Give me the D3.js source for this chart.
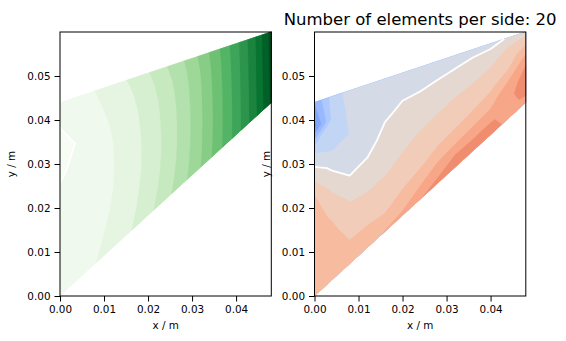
<!DOCTYPE html>
<html>
<head>
<meta charset="utf-8">
<script src="https://cdn.jsdelivr.net/npm/d3@7"></script>
<style>
  body { margin: 0; background: #fff; }
  svg text { font-family: "DejaVu Sans", sans-serif; fill: #000; }
</style>
</head>
<body>
<svg id="fig" width="566" height="341"></svg>
<script>
// Cook's membrane geometry (m)
const xExtent = [0, 0.048];
const yExtent = [0, 0.06];
const bottomEdgeY = [0, 0.044];   // y of lower edge at x = 0 and x = 0.048
const topEdgeY = [0.044, 0.06];   // y of upper edge at x = 0 and x = 0.048

const xTicks = [0, 0.01, 0.02, 0.03, 0.04];
const yTicks = [0, 0.01, 0.02, 0.03, 0.04, 0.05];

// Nodal values on a 13 x 9 structured grid of the membrane:
// columns run along x, rows run from the lower edge (first) to the upper edge (last).
const displacement = [
  [0.03, 0.45, 0.97, 1.45, 1.95, 2.70, 3.65, 4.70, 6.00, 7.60, 9.40, 11.50, 14.20],
  [0.03, 0.35, 0.80, 1.21, 1.75, 2.48, 3.44, 4.55, 5.91, 7.55, 9.40, 11.52, 14.22],
  [0.03, 0.25, 0.69, 1.06, 1.63, 2.34, 3.31, 4.45, 5.86, 7.53, 9.41, 11.55, 14.25],
  [0.04, 0.18, 0.62, 0.98, 1.56, 2.26, 3.25, 4.40, 5.84, 7.53, 9.42, 11.57, 14.27],
  [0.10, 0.13, 0.60, 0.95, 1.55, 2.25, 3.25, 4.40, 5.85, 7.55, 9.45, 11.60, 14.30],
  [-0.05, 0.10, 0.62, 0.98, 1.59, 2.30, 3.30, 4.44, 5.89, 7.59, 9.48, 11.62, 14.32],
  [-0.45, 0.08, 0.67, 1.06, 1.67, 2.39, 3.39, 4.52, 5.95, 7.64, 9.52, 11.65, 14.35],
  [0.02, 0.20, 0.79, 1.24, 1.84, 2.58, 3.58, 4.66, 6.06, 7.72, 9.56, 11.67, 14.37],
  [0.04, 0.50, 1.01, 1.55, 2.12, 2.92, 3.90, 4.92, 6.24, 7.84, 9.62, 11.70, 14.40]
];
const stress = [
  [2.50, 2.50, 2.40, 2.85, 3.05, 3.25, 3.95, 4.30, 4.40, 4.50, 4.35, 3.80, 3.70],
  [2.50, 2.40, 2.05, 2.05, 1.97, 2.30, 2.77, 3.45, 3.95, 3.95, 4.05, 3.85, 4.10],
  [2.45, 2.25, 1.55, 1.55, 1.50, 1.67, 1.89, 2.26, 2.50, 2.95, 3.20, 3.85, 4.30],
  [2.40, 1.80, 0.90, 0.80, 0.95, 1.20, 1.47, 1.69, 1.87, 2.10, 2.50, 3.60, 4.30],
  [2.15, 0.80, 0.05, 0.25, 0.60, 0.82, 1.06, 1.25, 1.45, 1.60, 1.85, 2.75, 4.10],
  [0.60, -0.25, -0.60, -0.35, 0.30, 0.48, 0.63, 0.80, 1.00, 1.15, 1.40, 1.90, 3.40],
  [-1.20, -1.45, -0.98, -0.60, -0.11, 0.16, 0.22, 0.36, 0.50, 0.70, 0.97, 1.50, 2.50],
  [-5.40, -1.80, -0.80, -0.60, -0.50, -0.20, -0.20, -0.10, 0.02, 0.15, 0.35, 1.10, 1.60],
  [-4.00, -1.60, -0.60, -0.50, -0.50, -0.45, -0.45, -0.35, -0.30, -0.25, -0.30, 0.10, 0.60]
];

const displacementLevels = [-1, 0, 1, 2, 3, 4, 5, 6, 7, 8, 9, 10, 11, 12, 13, 14, 15];
const displacementNorm = [-0.25, 14.8];
const stressLevels = [-6, -5, -4, -3, -2, -1, 0, 1, 2, 3, 4, 5];
const stressNorm = [-8, 8];
const isoLevel = 0;

const titleText = "Number of elements per side: 20";

// Colormaps
const greensStops = ["#f7fcf5", "#e5f5e0", "#c7e9c0", "#a1d99b", "#74c476",
                     "#41ab5d", "#238b45", "#006d2c", "#00441b"];
const greens = d3.scaleLinear()
  .domain(d3.range(greensStops.length).map(i => i / (greensStops.length - 1)))
  .range(greensStops).interpolate(d3.interpolateRgb).clamp(true);

const coolwarmStops = [
  [59,76,192],[68,90,204],[77,104,215],[87,117,225],[98,130,234],[108,142,241],
  [119,154,247],[130,165,251],[141,176,254],[152,185,255],[163,194,255],[174,201,253],
  [184,208,249],[194,213,244],[204,217,238],[213,219,230],[221,221,221],[229,216,209],
  [236,211,197],[241,204,185],[245,196,173],[247,187,160],[247,177,148],[247,166,135],
  [244,154,123],[241,141,111],[236,127,99],[229,112,88],[222,96,77],[213,80,66],
  [203,62,56],[192,40,47],[180,4,38]
];
const coolwarm = d3.scaleLinear()
  .domain(coolwarmStops.map((_, i) => i / (coolwarmStops.length - 1)))
  .range(coolwarmStops.map(c => d3.rgb(c[0], c[1], c[2])))
  .interpolate(d3.interpolateRgb).clamp(true);

// colour of the band between levels[k] and levels[k+1]
const bandColor = (cmap, levels, norm) => k =>
  cmap(((levels[k] + levels[k + 1]) / 2 - norm[0]) / (norm[1] - norm[0]));

const svg = d3.select("#fig");

const panels = [
  { left: 60, right: 271.3, grid: displacement, levels: displacementLevels,
    color: bandColor(greens, displacementLevels, displacementNorm) },
  { left: 314.5, right: 525.8, grid: stress, levels: stressLevels,
    color: bandColor(coolwarm, stressLevels, stressNorm) }
];
const plotTop = 32, plotBottom = 296;

function edgeY(edge, x) {
  return edge[0] + (edge[1] - edge[0]) * (x - xExtent[0]) / (xExtent[1] - xExtent[0]);
}

panels.forEach((p, pi) => {
  const xs = d3.scaleLinear().domain(xExtent).range([p.left, p.right]);
  const ys = d3.scaleLinear().domain(yExtent).range([plotBottom, plotTop]);
  const g = svg.append("g");

  const n = p.grid[0].length, m = p.grid.length;
  const values = p.grid.flat();

  // grid coordinates -> parametric (u, v) -> physical -> pixels
  const param = (c, r) => [
    Math.max(0, Math.min(1, (c - 0.5) / (n - 1))),
    Math.max(0, Math.min(1, (r - 0.5) / (m - 1)))
  ];
  const toPixel = (u, v) => {
    const x = xExtent[0] + u * (xExtent[1] - xExtent[0]);
    const yb = edgeY(bottomEdgeY, x), yt = edgeY(topEdgeY, x);
    return [xs(x), ys(yb + v * (yt - yb))];
  };
  const projection = d3.geoTransform({
    point(c, r) { const q = param(c, r); const px = toPixel(q[0], q[1]); this.stream.point(px[0], px[1]); }
  });
  const path = d3.geoPath(projection);

  // filled bands
  const bands = d3.contours().size([n, m]).thresholds(p.levels.slice(0, -1))(values);
  g.selectAll("path.band").data(bands).join("path")
    .attr("class", "band")
    .attr("d", path)
    .attr("fill", (d, k) => p.color(k))
    .attr("stroke", (d, k) => p.color(k))
    .attr("stroke-width", 0.3);

  // isoline, drawn only where it runs through the interior
  const iso = d3.contours().size([n, m]).thresholds([isoLevel])(values)[0];
  const onBoundary = (a, b) =>
    (a[0] === b[0] && (a[0] === 0 || a[0] === 1)) ||
    (a[1] === b[1] && (a[1] === 0 || a[1] === 1));
  let dStr = "";
  iso.coordinates.forEach(poly => poly.forEach(ring => {
    const pts = ring.map(pt => param(pt[0], pt[1]));
    let open = false;
    for (let i = 1; i < pts.length; i++) {
      const a = pts[i - 1], b = pts[i];
      if (onBoundary(a, b)) { open = false; continue; }
      const pa = toPixel(a[0], a[1]), pb = toPixel(b[0], b[1]);
      if (!open) { dStr += `M${pa[0].toFixed(2)},${pa[1].toFixed(2)}`; open = true; }
      dStr += `L${pb[0].toFixed(2)},${pb[1].toFixed(2)}`;
    }
  }));
  g.append("path").attr("d", dStr).attr("fill", "none")
    .attr("stroke", "#fff").attr("stroke-width", 1.8)
    .attr("stroke-linejoin", "round").attr("stroke-linecap", "round");

  // axes
  const xAxis = d3.axisBottom(xs).tickValues(xTicks).tickFormat(d3.format(".2f"))
    .tickSize(5.5).tickPadding(4).tickSizeOuter(0);
  const yAxis = d3.axisLeft(ys).tickValues(yTicks).tickFormat(d3.format(".2f"))
    .tickSize(5.5).tickPadding(4).tickSizeOuter(0);
  const gx = svg.append("g").attr("transform", `translate(0,${plotBottom})`).call(xAxis);
  const gy = svg.append("g").attr("transform", `translate(${p.left},0)`).call(yAxis);
  [gx, gy].forEach(a => {
    a.select(".domain").remove();
    a.selectAll("line").attr("stroke", "#000").attr("stroke-width", 1);
    a.selectAll("text").attr("font-size", 10.4).attr("font-family", "DejaVu Sans").attr("fill", "#000");
  });

  svg.append("rect")
    .attr("x", p.left).attr("y", plotTop)
    .attr("width", p.right - p.left).attr("height", plotBottom - plotTop)
    .attr("fill", "none").attr("stroke", "#000").attr("stroke-width", 1);

  svg.append("text")
    .attr("x", (p.left + p.right) / 2).attr("y", 329)
    .attr("text-anchor", "middle").attr("font-size", 10.4)
    .text("x / m");
  svg.append("text")
    .attr("transform", `translate(${p.left - 45},${(plotTop + plotBottom) / 2}) rotate(-90)`)
    .attr("text-anchor", "middle").attr("font-size", 10.4)
    .text("y / m");

  if (pi === 1) {
    svg.append("text")
      .attr("x", (p.left + p.right) / 2).attr("y", 25)
      .attr("text-anchor", "middle").attr("font-size", 16.5)
      .text(titleText);
  }
});
</script>
</body>
</html>
